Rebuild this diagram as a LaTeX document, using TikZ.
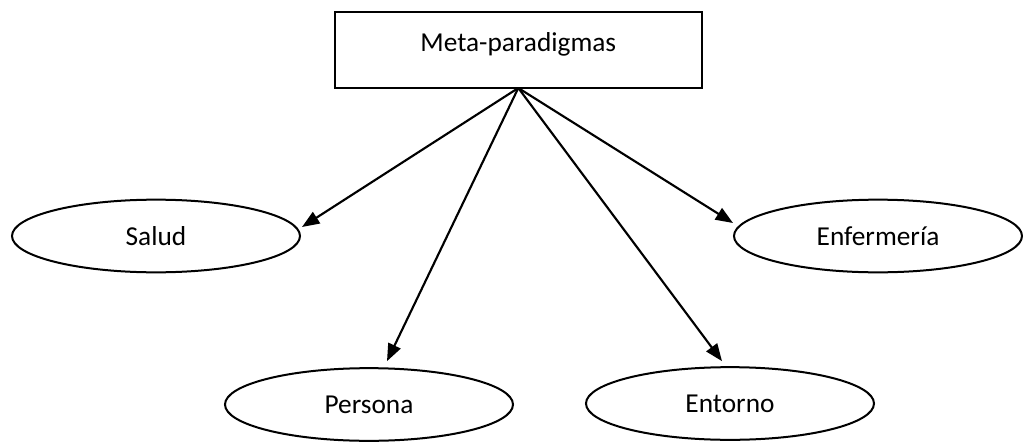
\documentclass[tikz,border=0pt]{standalone}
\usepackage{fontspec}
\setmainfont{Carlito}
\usetikzlibrary{shapes.geometric,arrows.meta}
\begin{document}
\begin{tikzpicture}[x=0.75pt,y=-0.75pt,
  every node/.style={font=\fontsize{20.5}{24}\selectfont},
  box/.style={draw,line width=1.6pt,minimum width=275pt,minimum height=57pt,inner sep=0pt,outer sep=0pt},
  oval/.style={draw,ellipse,line width=1.5pt,minimum width=216pt,minimum height=54.5pt,inner sep=0pt,outer sep=0pt},
  conn/.style={line width=1.6pt,-{Triangle[length=13pt,width=10pt]}}]
\useasboundingbox (0,0) rectangle (1023,442);
\node[box] (meta) at (518.3,50) {};
\node (metatext) at (518.3,44) {Meta-paradigmas};
\node[oval] (salud) at (156,236) {Salud};
\node[oval] (enf) at (878,236) {Enfermería};
\node[oval] (persona) at (369,404.5) {Persona};
\node[oval] (entorno) at (730,403.5) {Entorno};
\draw[conn] (meta.south) -- ([shift={(2,-9)}]salud.east);
\draw[conn] (meta.south) -- ([shift={(-1,-13)}]enf.west);
\draw[conn] (meta.south) -- ([shift={(18,-7)}]persona.north);
\draw[conn] (meta.south) -- ([shift={(-8,-6)}]entorno.north);
\end{tikzpicture}
\end{document}
